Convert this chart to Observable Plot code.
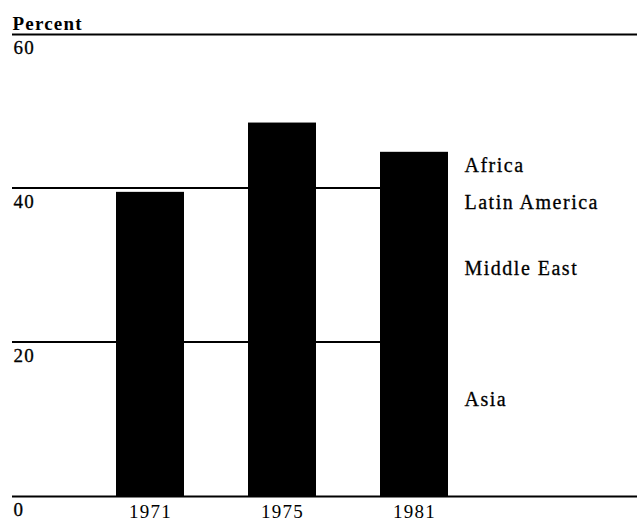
<!DOCTYPE html>
<html><head><meta charset="utf-8">
<script src="https://cdn.jsdelivr.net/npm/d3@7"></script>
<script src="https://cdn.jsdelivr.net/npm/@observablehq/plot@0.6"></script>
<style>html,body{margin:0;padding:0;background:#fff} svg{display:block} svg text{letter-spacing:1.2px}</style>
</head><body><div id="chart"></div>
<script>
const years = ["1971", "1975", "1981"];
const totals = [39.5, 48.5, 44.7];
const regions = ["Africa", "Latin America", "Middle East", "Asia"];
const regionLabelY = [43, 38.2, 29.6, 12.6];
const yTicks = [0, 20, 40, 60];
const fullRules = [0, 60];
const partialRules = [20, 40];

const data = years.map((year, i) => ({year, value: totals[i]}));
const labels = regions.map((name, i) => ({name, y: regionLabelY[i]}));
const FONT = "'Liberation Serif', 'Times New Roman', serif";

const chart = Plot.plot({
  width: 637, height: 521,
  marginLeft: 12, marginRight: 0, marginTop: 34, marginBottom: 25,
  style: {fontFamily: FONT, background: "#fff", color: "#000", fontSize: "19px"},
  x: {type: "band", domain: years, range: [50.5, 512.5], padding: 0.487, label: null},
  y: {domain: [0, 60], label: null, axis: null},
  marks: [
    Plot.ruleY(fullRules, {stroke: "#000", strokeWidth: 2}),
    (index, scales, values, dims) => {
      const g = d3.create("svg:g");
      for (const v of partialRules) {
        g.append("line")
          .attr("x1", dims.marginLeft).attr("x2", scales.x("1981"))
          .attr("y1", scales.y(v)).attr("y2", scales.y(v))
          .attr("stroke", "#000").attr("stroke-width", 1.8);
      }
      return g.node();
    },
    Plot.barY(data, {x: "year", y: "value", fill: "#000"}),
    Plot.axisX({tickSize: 0, tickPadding: 8, fontSize: 19, fill: "#000", stroke: "#000", strokeWidth: 0.3}),
    Plot.text(yTicks, {y: d => d, text: d => String(d), frameAnchor: "left", textAnchor: "start", lineAnchor: "top", dy: 6, dx: 1, fontSize: 19, fill: "#000", stroke: "#000", strokeWidth: 0.3}),
    Plot.text(["Percent"], {frameAnchor: "top-left", textAnchor: "start", lineAnchor: "bottom", dy: -5, fontSize: 19, fontWeight: "bold", fill: "#000"}),
    Plot.text(labels, {x: () => "1981", y: "y", text: "name", textAnchor: "start", dx: 50, fontSize: 20, fill: "#000", stroke: "#000", strokeWidth: 0.3, className: "region-label"})
  ]
});
document.getElementById("chart").append(chart);
</script>
<style>.region-label text{letter-spacing:1.5px}</style>
</body></html>
